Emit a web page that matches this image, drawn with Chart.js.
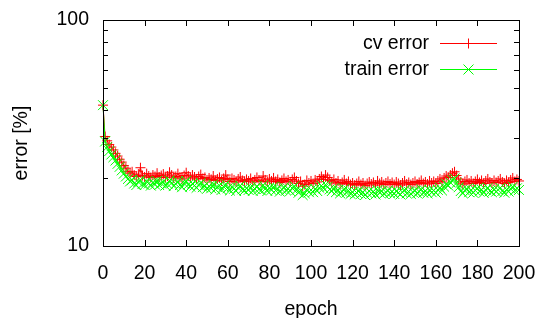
<!DOCTYPE html>
<html>
<head>
<meta charset="utf-8">
<script src="https://cdn.jsdelivr.net/npm/chart.js@4.4.1/dist/chart.umd.min.js"></script>
<style>
  html, body { margin: 0; padding: 0; background: #fff; }
  #wrap { width: 540px; height: 318px; }
</style>
</head>
<body>
<div id="wrap"><canvas id="errChart" width="540" height="318"></canvas></div>
<script>
// data
const epochs = Array.from({ length: 201 }, (_, i) => i);

const cvError = [
    42, 30.5, 29.2, 28.1, 27.4, 26.6, 25.7, 25.0, 24.2, 23.5,
    22.7, 22.1, 21.4, 21.0, 21.3, 20.6, 20.3, 20.8, 22.2, 20.5,
    20.2, 20.9, 20.4, 20.1, 20.6, 20.3, 21.0, 20.2, 20.5, 20.8,
    20.1, 20.4, 21.2, 20.6, 20.0, 20.3, 20.9, 20.2, 19.8, 20.5,
    21.1, 20.4, 20.0, 20.6, 20.2, 19.8, 20.3, 20.7, 19.9, 20.1,
    19.6, 20.0, 19.7, 20.4, 19.5, 19.8, 20.1, 19.4, 19.9, 20.6,
    19.7, 19.3, 19.9, 19.6, 19.2, 19.8, 20.2, 19.5, 19.3, 19.7,
    19.4, 19.9, 19.2, 19.6, 20.1, 19.5, 19.3, 20.4, 19.6, 19.2,
    19.8, 19.4, 20.0, 19.3, 19.7, 19.1, 19.5, 19.9, 19.3, 19.6,
    19.2, 19.7, 20.1, 19.4, 18.9, 19.3, 18.4, 18.7, 19.5, 19.0,
    19.4, 18.9, 19.6, 19.2, 19.8, 20.3, 19.7, 20.6, 20.1, 19.5,
    19.2, 19.7, 19.0, 19.4, 18.8, 19.1, 19.6, 18.9, 19.3, 18.7,
    19.0, 18.6, 18.9, 19.3, 18.7, 19.0, 18.5, 18.9, 19.2, 18.8,
    19.1, 18.6, 19.4, 18.9, 19.2, 18.7, 19.0, 19.3, 18.8, 19.1,
    18.7, 19.2, 18.9, 18.6, 19.0, 19.4, 18.8, 19.1, 18.7, 19.0,
    19.3, 18.8, 19.1, 19.5, 18.9, 19.2, 18.8, 19.4, 19.0, 19.3,
    18.9, 19.4, 19.8, 19.2, 20.0, 20.4, 20.1, 20.6, 21.0, 21.3,
    20.5, 19.8, 19.2, 18.8, 19.3, 19.6, 19.0, 19.4, 18.9, 19.3,
    19.7, 19.1, 19.5, 18.9, 19.4, 19.8, 19.2, 19.0, 19.5, 19.1,
    19.4, 19.8, 19.2, 18.9, 19.5, 19.1, 19.6, 20.0, 19.3, 19.7,
    19.4
];

const trainError = [
    42, 29.0, 27.4, 26.3, 25.4, 24.7, 23.9, 23.1, 22.4, 21.6,
    20.9, 20.3, 19.8, 19.3, 19.6, 18.9, 18.6, 19.2, 19.6, 18.8,
    18.6, 19.3, 18.9, 18.5, 19.1, 18.7, 19.4, 18.6, 18.9, 19.2,
    18.5, 18.8, 19.5, 19.0, 18.4, 18.8, 19.3, 18.6, 18.2, 18.9,
    19.4, 18.7, 18.3, 18.9, 18.5, 18.1, 18.6, 19.0, 18.2, 18.5,
    17.9, 18.4, 18.0, 18.7, 17.8, 18.2, 18.5, 17.7, 18.3, 18.8,
    18.0, 17.6, 18.3, 17.9, 17.5, 18.1, 18.5, 17.8, 17.6, 18.0,
    17.7, 18.2, 17.5, 17.9, 18.4, 17.8, 17.6, 18.6, 17.9, 17.5,
    18.1, 17.7, 18.3, 17.6, 18.0, 17.4, 17.8, 18.2, 17.6, 17.9,
    17.5, 18.0, 18.4, 17.7, 17.2, 17.6, 16.8, 17.1, 17.8, 17.3,
    17.7, 17.3, 17.9, 17.5, 18.1, 18.5, 18.0, 18.7, 18.3, 17.8,
    17.5, 18.0, 17.3, 17.7, 17.1, 17.4, 17.9, 17.2, 17.6, 17.0,
    17.3, 16.9, 17.2, 17.6, 17.0, 17.3, 16.8, 17.2, 17.5, 17.1,
    17.4, 16.9, 17.7, 17.2, 17.5, 17.0, 17.3, 17.6, 17.1, 17.4,
    17.0, 17.5, 17.2, 16.9, 17.3, 17.7, 17.1, 17.4, 17.0, 17.3,
    17.6, 17.1, 17.4, 17.8, 17.2, 17.5, 17.1, 17.7, 17.3, 17.6,
    17.2, 17.7, 18.1, 17.6, 18.3, 18.8, 18.5, 19.1, 19.6, 19.9,
    19.0, 18.2, 17.5, 17.1, 17.6, 17.9, 17.3, 17.7, 17.2, 17.6,
    18.0, 17.4, 17.8, 17.2, 17.7, 18.1, 17.5, 17.3, 17.8, 17.4,
    17.7, 18.1, 17.5, 17.2, 17.8, 17.4, 17.9, 18.3, 17.6, 18.0,
    17.7
];

const xTicks = [0, 20, 40, 60, 80, 100, 120, 140, 160, 180, 200];
const yTicks = [10, 20, 30, 40, 50, 60, 70, 80, 90, 100];
const yLabelled = [10, 100];
const yTitle = 'error [%]';

const FONT = 'Liberation Sans, Arial, Helvetica, sans-serif';
const FONT_SIZE = 19.5;

// where the plot frame sits in the reference
const frame = { left: 103, top: 20, right: 519, bottom: 246 };

function drawMarker(ctx, style, x, y, r) {
    ctx.beginPath();
    if (style === 'cross') {
        ctx.moveTo(x - r, y); ctx.lineTo(x + r, y);
        ctx.moveTo(x, y - r); ctx.lineTo(x, y + r);
    } else {
        ctx.moveTo(x - r, y - r); ctx.lineTo(x + r, y + r);
        ctx.moveTo(x - r, y + r); ctx.lineTo(x + r, y - r);
    }
    ctx.stroke();
}

// gnuplot-like frame, inward ticks on all four sides, y title and key
const gnuplotFrame = {
    id: 'gnuplotFrame',
    afterDatasetsDraw(chart) {
        const { ctx, chartArea: a, scales } = chart;
        ctx.save();
        ctx.strokeStyle = '#000';
        ctx.lineWidth = 1;
        ctx.beginPath();
        xTicks.forEach(v => {
            const x = Math.round(scales.x.getPixelForValue(v)) + 0.5;
            ctx.moveTo(x, a.bottom); ctx.lineTo(x, a.bottom - 6);
            ctx.moveTo(x, a.top); ctx.lineTo(x, a.top + 6);
        });
        yTicks.forEach(v => {
            const y = Math.round(scales.y.getPixelForValue(v)) + 0.5;
            const len = yLabelled.includes(v) ? 9 : 5;
            ctx.moveTo(a.left, y); ctx.lineTo(a.left + len, y);
            ctx.moveTo(a.right, y); ctx.lineTo(a.right - len, y);
        });
        ctx.stroke();
        ctx.strokeRect(Math.round(a.left) + 0.5, Math.round(a.top) + 0.5,
            Math.round(a.right - a.left), Math.round(a.bottom - a.top));

        ctx.font = FONT_SIZE + 'px ' + FONT;
        ctx.fillStyle = '#000';
        ctx.textBaseline = 'middle';

        // y title sits a little below the middle, as gnuplot puts it
        ctx.save();
        ctx.translate(22, 143);
        ctx.rotate(-Math.PI / 2);
        ctx.textAlign = 'center';
        ctx.fillText(yTitle, 0, 0);
        ctx.restore();

        // key
        ctx.textAlign = 'right';
        chart.data.datasets.forEach((ds, i) => {
            const y = 43.5 + i * 26;
            ctx.fillStyle = '#000';
            ctx.fillText(ds.label, 429, y);
            ctx.strokeStyle = ds.borderColor;
            ctx.beginPath();
            ctx.moveTo(440, y); ctx.lineTo(497, y);
            ctx.stroke();
            drawMarker(ctx, ds.pointStyle, 468.5, y, 5);
        });
        ctx.restore();
    }
};

new Chart(document.getElementById('errChart'), {
    type: 'line',
    data: {
        labels: epochs,
        datasets: [{
            label: 'cv error',
            data: cvError,
            borderColor: '#ff0000',
            backgroundColor: '#ff0000',
            borderWidth: 1,
            pointStyle: 'cross',
            pointRadius: 5,
            pointBorderWidth: 1,
            pointBorderColor: '#ff0000',
            tension: 0,
            clip: false,
            order: 2
        }, {
            label: 'train error',
            data: trainError,
            borderColor: '#00ff00',
            backgroundColor: '#00ff00',
            borderWidth: 1,
            pointStyle: 'crossRot',
            pointRadius: 7,
            pointBorderWidth: 1,
            pointBorderColor: '#00ff00',
            tension: 0,
            clip: false,
            order: 1
        }]
    },
    options: {
        responsive: false,
        animation: false,
        layout: { padding: { top: frame.top, right: 540 - frame.right, left: 0, bottom: 0 } },
        plugins: { legend: { display: false }, tooltip: { enabled: false } },
        scales: {
            x: {
                type: 'linear',
                min: 0,
                max: 200,
                // fixed height, and no extra room for the end labels
                afterFit(s) { s.height = 318 - frame.bottom; s.paddingLeft = 0; s.paddingRight = 0; },
                afterBuildTicks(s) { s.ticks = xTicks.map(v => ({ value: v })); },
                grid: { display: false, drawTicks: false },
                border: { display: false },
                ticks: { color: '#000', font: { size: FONT_SIZE, family: FONT }, padding: 16, maxRotation: 0, autoSkip: false },
                title: { display: true, text: 'epoch', color: '#000', font: { size: FONT_SIZE, family: FONT }, padding: { top: 0, bottom: -3 } }
            },
            y: {
                type: 'logarithmic',
                min: 10,
                max: 100,
                afterFit(s) { s.width = frame.left; s.paddingTop = 0; s.paddingBottom = 0; },
                afterBuildTicks(s) { s.ticks = yTicks.map(v => ({ value: v })); },
                grid: { display: false, drawTicks: false },
                border: { display: false },
                ticks: {
                    color: '#000',
                    font: { size: FONT_SIZE, family: FONT },
                    padding: 14,
                    autoSkip: false,
                    callback: v => yLabelled.includes(v) ? String(v) : ''
                }
            }
        }
    },
    plugins: [gnuplotFrame]
});
</script>
</body>
</html>
